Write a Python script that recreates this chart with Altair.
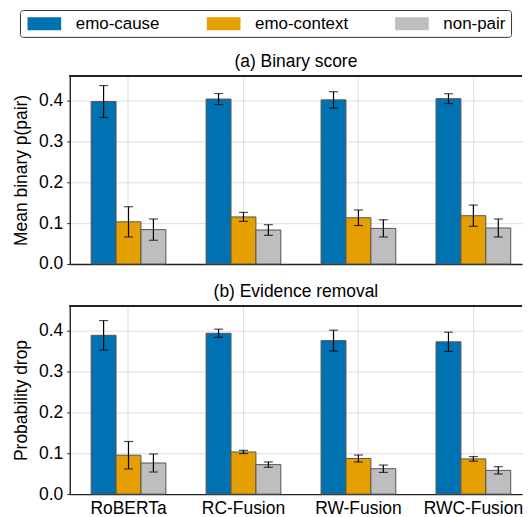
import altair as alt
import pandas as pd

models = ["RoBERTa", "RC-Fusion", "RW-Fusion", "RWC-Fusion"]
groups = ["emo-cause", "emo-context", "non-pair"]
colors = ["#0072B2", "#E69F00", "#BEBEBE"]

binary_cause = [0.397, 0.403, 0.401, 0.404]
binary_context = [0.103, 0.115, 0.113, 0.118]
binary_nonpair = [0.084, 0.083, 0.087, 0.088]
binary_cause_err = [0.039, 0.0135, 0.020, 0.012]
binary_context_err = [0.037, 0.011, 0.019, 0.026]
binary_nonpair_err = [0.026, 0.013, 0.021, 0.022]

removal_cause = [0.388, 0.393, 0.375, 0.372]
removal_context = [0.095, 0.103, 0.087, 0.086]
removal_nonpair = [0.076, 0.072, 0.062, 0.058]
removal_cause_err = [0.036, 0.010, 0.0255, 0.0235]
removal_context_err = [0.0335, 0.004, 0.0085, 0.0057]
removal_nonpair_err = [0.022, 0.0065, 0.009, 0.009]


def frame(means, errs):
    rows = []
    for g, m_list, e_list in zip(groups, means, errs):
        for model, m, e in zip(models, m_list, e_list):
            rows.append({"model": model, "group": g, "mean": m,
                         "lo": m - e, "hi": m + e})
    return pd.DataFrame(rows)


df_a = frame([binary_cause, binary_context, binary_nonpair],
             [binary_cause_err, binary_context_err, binary_nonpair_err])
df_b = frame([removal_cause, removal_context, removal_nonpair],
             [removal_cause_err, removal_context_err, removal_nonpair_err])

FONT = "Liberation Sans"
FS = 17.5
W = 454
H = 189


def panel(df, title, ytitle, show_labels, legend):
    xenc = alt.X("model:N", sort=models,
                 scale=alt.Scale(paddingInner=0.35, paddingOuter=0.142, align=0.655),
                 axis=alt.Axis(title=None, labels=show_labels, ticks=False,
                               grid=True, domain=True, labelPadding=5,
                               labelAngle=0))
    xo = alt.XOffset("group:N", sort=groups,
                     scale=alt.Scale(paddingInner=0, paddingOuter=0))
    yscale = alt.Scale(domain=[0, 0.46], nice=False)
    yenc = alt.Y("mean:Q", scale=yscale,
                 axis=alt.Axis(title=ytitle, values=[0, 0.1, 0.2, 0.3, 0.4],
                               format=".1f", grid=True, tickSize=3,
                               labelPadding=4, titlePadding=8))
    color = alt.Color("group:N", sort=groups,
                      scale=alt.Scale(domain=groups, range=colors),
                      legend=legend)
    base = alt.Chart(df)
    bars = base.mark_bar(stroke="#555555", strokeWidth=1).encode(
        x=xenc, xOffset=xo, y=yenc, color=color)
    rule = base.mark_rule(color="black", strokeWidth=1.2).encode(
        x=xenc, xOffset=xo, y=alt.Y("lo:Q", scale=yscale), y2="hi:Q")
    cap_lo = base.mark_tick(color="black", size=9, thickness=1.2).encode(
        x=xenc, xOffset=xo, y=alt.Y("lo:Q", scale=yscale))
    cap_hi = base.mark_tick(color="black", size=9, thickness=1.2).encode(
        x=xenc, xOffset=xo, y=alt.Y("hi:Q", scale=yscale))
    top = base.mark_rule(color="#222222", strokeWidth=1.4).encode(
        x=alt.value(0), x2=alt.value(W), y=alt.value(0))
    return alt.layer(bars, rule, cap_lo, cap_hi, top).properties(
        width=W, height=H,
        title=alt.TitleParams(title, fontSize=FS, font=FONT,
                              fontWeight="normal", offset=5, color="black"))


legend = alt.Legend(title=None, orient="none", legendX=-50, legendY=-66,
                    direction="horizontal",
                    symbolType="M-2.6,-1L2.6,-1L2.6,1L-2.6,1Z",
                    symbolSize=169, symbolStrokeWidth=0, symbolOpacity=1,
                    symbolOffset=11,
                    labelFontSize=17, labelFont=FONT, labelColor="black",
                    labelOffset=23, columnPadding=44, columns=3,
                    strokeColor="#333333", cornerRadius=3, padding=5,
                    fillColor="white")

chart_a = panel(df_a, "(a) Binary score", "Mean binary p(pair)", False, legend)
chart_b = panel(df_b, "(b) Evidence removal", "Probability drop", True, legend)

chart = alt.vconcat(chart_a, chart_b, spacing=9).resolve_scale(
    color="shared"
).properties(
    padding={"left": 4, "top": 0, "right": 0, "bottom": 0}
).configure_view(stroke=None).configure_axis(
    labelFont=FONT, titleFont=FONT, labelFontSize=FS, titleFontSize=FS,
    labelColor="black", titleColor="black", titleFontWeight="normal",
    domainColor="#222222", domainWidth=1.4, tickColor="#222222",
    gridColor="#dddddd", gridWidth=1
)

chart.save("out.html", embed_options={"renderer": "svg", "actions": False})
